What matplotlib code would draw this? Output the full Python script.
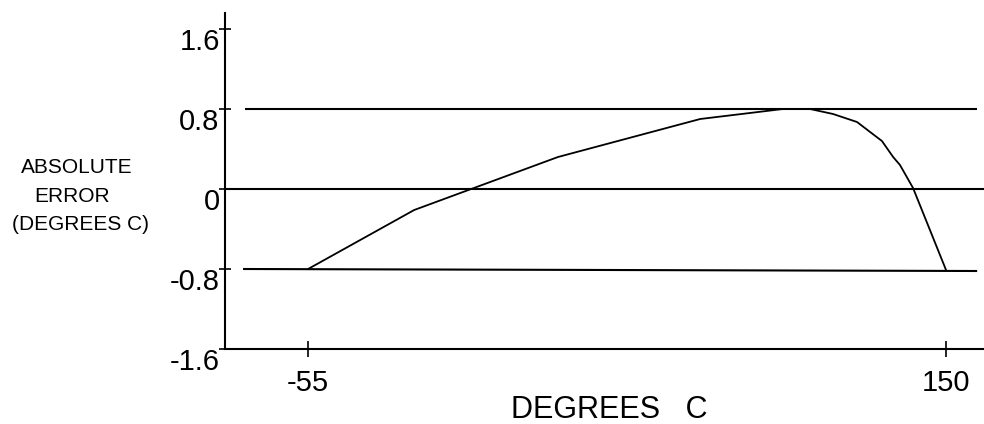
import matplotlib
matplotlib.use("Agg")
import matplotlib.pyplot as plt
import matplotlib.transforms as mtransforms

plt.rcParams["font.family"] = ["Liberation Sans", "DejaVu Sans"]

# error curve (degrees C vs absolute error)
temp = [-55, -20.9, 25.3, 71.0, 97.6, 106.3, 113.7, 121.4, 125.6, 129.4, 133.0, 135.2, 139.4, 150.0]
err = [-0.80, -0.21, 0.32, 0.70, 0.80, 0.80, 0.75, 0.67, 0.57, 0.48, 0.32, 0.24, 0.01, -0.81]

# reference limit lines
limit_x0 = [-75.2, -75.9]
limit_x1 = [160.0, 160.0]
limit_y0 = [0.8, -0.80]
limit_y1 = [0.8, -0.82]

x_ticks = [-55, 150]
x_tick_labels = ["-55", "150"]
y_ticks = [1.6, 0.8, 0, -0.8, -1.6]
y_tick_labels = ["1.6", "0.8", "0", "-0.8", "-1.6"]

fig = plt.figure(figsize=(9.84, 4.24), dpi=100)
ax = fig.add_axes([225 / 984, 75 / 424, 759 / 984, 336 / 424])

ax.set_xlim(-81.7, 162.2)
ax.set_ylim(-1.6, 1.76)

for s in ["top", "right"]:
    ax.spines[s].set_visible(False)
for s in ["left", "bottom"]:
    ax.spines[s].set_linewidth(1.5)
    ax.spines[s].set_color("black")

# zero line runs across the whole axes
ax.axhline(0, color="black", lw=1.5)
for xa, xb, ya, yb in zip(limit_x0, limit_x1, limit_y0, limit_y1):
    ax.plot([xa, xb], [ya, yb], color="black", lw=1.5, solid_capstyle="butt")

ax.plot(temp, err, color="black", lw=1.3)

ax.set_xticks(x_ticks, x_tick_labels)
ax.tick_params(axis="x", direction="inout", length=11, width=1.2, pad=9, labelsize=21)
ax.set_yticks(y_ticks, [""] * len(y_ticks))
ax.tick_params(axis="y", direction="inout", length=9, width=1.2)

# y tick labels sit below their ticks
trans = mtransforms.blended_transform_factory(ax.transAxes, ax.transData)
for v, lab in zip(y_ticks, y_tick_labels):
    ax.text(-0.007, v - 0.21, lab, transform=trans, ha="right", va="baseline", fontsize=21)

ax.set_xlabel("DEGREES   C", fontsize=22)
ax.xaxis.set_label_coords(0.506, -0.136)

fig.text(77 / 984, 1 - 173 / 424, "ABSOLUTE", ha="center", va="baseline", fontsize=15)
fig.text(72 / 984, 1 - 202 / 424, "ERROR", ha="center", va="baseline", fontsize=15)
fig.text(81 / 984, 1 - 230 / 424, "(DEGREES C)", ha="center", va="baseline", fontsize=15)

fig.savefig("out.png", dpi=100)
